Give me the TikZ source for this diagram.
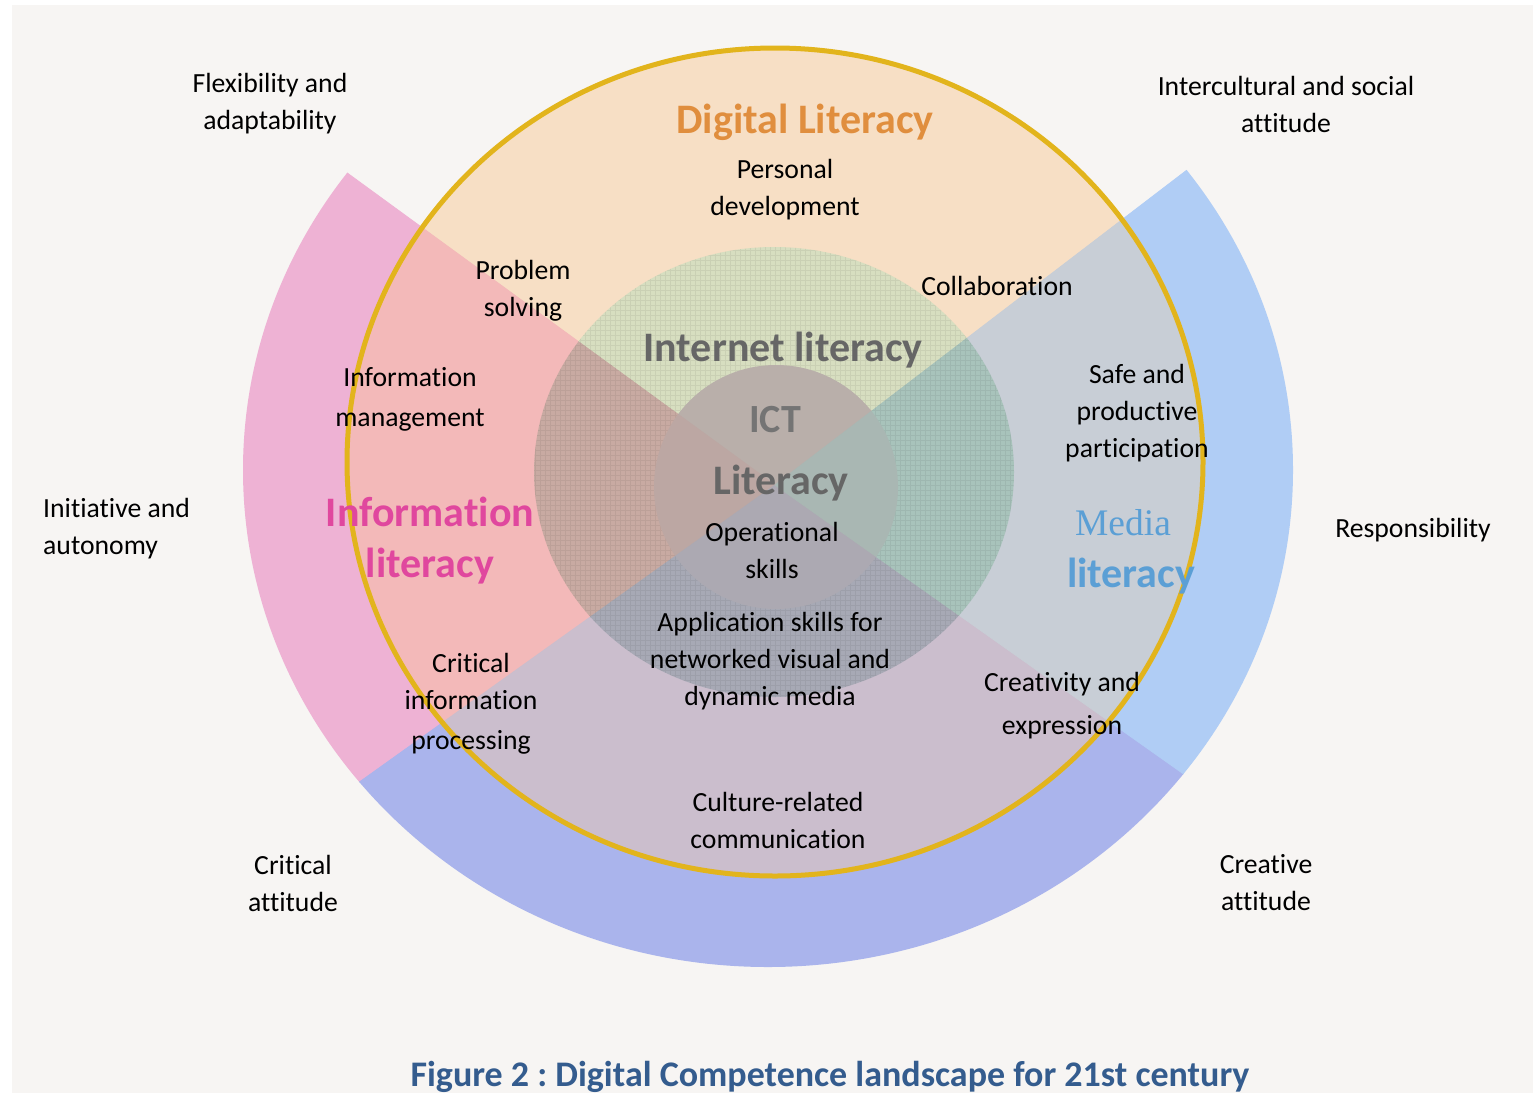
\documentclass[tikz,border=0pt]{standalone}
\usepackage{fontspec}
\setmainfont{Carlito}[Ligatures=NoCommon]
\newfontfamily\mediafont{Liberation Serif}
\frenchspacing

% palette
\definecolor{bgc}{HTML}{F7F5F3}
\definecolor{ringL}{HTML}{EEB2D4}
\definecolor{ringB}{HTML}{AAB4EC}
\definecolor{ringR}{HTML}{B0CDF5}
\definecolor{inT}{HTML}{F7DFC5}
\definecolor{inL}{HTML}{F3B9B9}
\definecolor{inR}{HTML}{C8CED6}
\definecolor{inB}{HTML}{CBBECD}
\definecolor{midT}{HTML}{D7DEC0}
\definecolor{midL}{HTML}{C8AAA2}
\definecolor{midR}{HTML}{A8C3BB}
\definecolor{midB}{HTML}{A7A9B5}
\definecolor{ictT}{HTML}{B9AFAA}
\definecolor{ictL}{HTML}{BCA7A3}
\definecolor{ictR}{HTML}{A9B7B3}
\definecolor{ictB}{HTML}{ACA9B2}
\definecolor{gold}{HTML}{E2B41C}
\definecolor{dlorange}{HTML}{E08E3E}
\definecolor{ilgray}{HTML}{666666}
\definecolor{ictgray}{HTML}{747474}
\definecolor{infomag}{HTML}{E0479E}
\definecolor{mediablue}{HTML}{5B9FD5}
\definecolor{titleblue}{HTML}{345C8E}

\begin{document}
\begin{tikzpicture}[x=1pt,y=-1pt,
  lbl/.style={font=\fontsize{27.7}{37}\selectfont, align=center, inner sep=0pt, text=black},
  big/.style={font=\bfseries\fontsize{42}{51}\selectfont, align=center, inner sep=0pt},
  sect/.style={fill=#1, draw=#1, line width=0.8pt},
  gridline/.style={draw=black, opacity=0.06, line width=0.6pt}]
\useasboundingbox (0,0) rectangle (1533,1093);
\fill[white] (0,0) rectangle (1533,1093);
\fill[bgc] (12,5) rectangle (1533,1093);

% centre of the cross and far points of its four rays
\coordinate (C) at (775,485);
\coordinate (ULf) at (-75,-135);
\coordinate (URf) at (1599,-145);
\coordinate (LLf) at (-45,1071);
\coordinate (LRf) at (1595,1065);

% outer ring: information, media and communication sectors
\begin{scope}
  \clip (768,470) ellipse [x radius=525, y radius=497];
  \path[sect=ringL] (C) -- (ULf) -- (LLf) -- cycle;
  \path[sect=ringB] (C) -- (LLf) -- (LRf) -- cycle;
  \path[sect=ringR] (C) -- (URf) -- (LRf) -- cycle;
\end{scope}

% digital literacy disc
\begin{scope}
  \clip (775,462) ellipse [x radius=428, y radius=414];
  \path[sect=inT] (C) -- (ULf) -- (URf) -- cycle;
  \path[sect=inL] (C) -- (ULf) -- (LLf) -- cycle;
  \path[sect=inB] (C) -- (LLf) -- (LRf) -- cycle;
  \path[sect=inR] (C) -- (URf) -- (LRf) -- cycle;
\end{scope}

% internet literacy disc with its fine mesh
\begin{scope}
  \clip (774,472) ellipse [x radius=240, y radius=225];
  \path[sect=midT] (C) -- (ULf) -- (URf) -- cycle;
  \path[sect=midL] (C) -- (ULf) -- (LLf) -- cycle;
  \path[sect=midB] (C) -- (LLf) -- (LRf) -- cycle;
  \path[sect=midR] (C) -- (URf) -- (LRf) -- cycle;
  \draw[gridline] (530,245) grid[step=5pt] (1020,700);
\end{scope}

% ICT literacy disc
\begin{scope}
  \clip (776,487) circle [radius=122];
  \path[sect=ictT] (C) -- (ULf) -- (URf) -- cycle;
  \path[sect=ictL] (C) -- (ULf) -- (LLf) -- cycle;
  \path[sect=ictB] (C) -- (LLf) -- (LRf) -- cycle;
  \path[sect=ictR] (C) -- (URf) -- (LRf) -- cycle;
\end{scope}

% golden border of the digital literacy disc
\draw[gold, line width=5pt] (775,462) ellipse [x radius=428, y radius=414];

% labels
\node[lbl] (flex) at (270,104) {Flexibility and\\adaptability};
\node[lbl] (intercult) at (1286,104) {Intercultural and social\\attitude};
\node[big, text=dlorange] (dl) at (805,122) {Digital Literacy};
\node[lbl] (pers) at (785,190) {Personal\\development};
\node[lbl] (prob) at (523,291) {Problem\\solving};
\node[lbl] (collab) at (997,286) {Collaboration};
\node[big, text=ilgray] (il) at (783,350) {Internet literacy};
\node[lbl] (infman) at (410,399) {Information\\[3pt]management};
\node[lbl] (safe) at (1137,413) {Safe and\\productive\\participation};
\node[big, text=ictgray, font=\bfseries\fontsize{40}{48}\selectfont] (ict) at (775,420) {ICT};
\node[big, text=ilgray] (lit) at (781,483) {Literacy};
\node[lbl, anchor=west, align=left] (init) at (43,529) {Initiative and\\autonomy};
\node[big, text=infomag] (inflit) at (430,541) {Information\\literacy};
\node[inner sep=0pt, font=\mediafont\fontsize{37.5}{45}\selectfont, text=mediablue] (media) at (1123,523) {Media};
\node[big, text=mediablue] (medlit) at (1131,576) {literacy};
\node[lbl] (resp) at (1413,530) {Responsibility};
\node[lbl] (ops) at (772,550) {Operational\\skills};
\node[lbl] (app) at (770,661) {Application skills for\\networked visual and\\dynamic media};
\node[lbl] (crit) at (471,704) {Critical\\information\\[3pt]processing};
\node[lbl] (crea) at (1062,706) {Creativity and\\[6pt]expression};
\node[lbl] (cult) at (778,820) {Culture-related\\communication};
\node[lbl] (critatt) at (293,883) {Critical\\attitude};
\node[lbl] (creatt) at (1266,883) {Creative\\attitude};
\node[inner sep=0pt, font=\bfseries\fontsize{36}{43}\selectfont, text=titleblue] (title) at (830,1077) {Figure 2 : Digital Competence landscape for 21st century};
\end{tikzpicture}
\end{document}
